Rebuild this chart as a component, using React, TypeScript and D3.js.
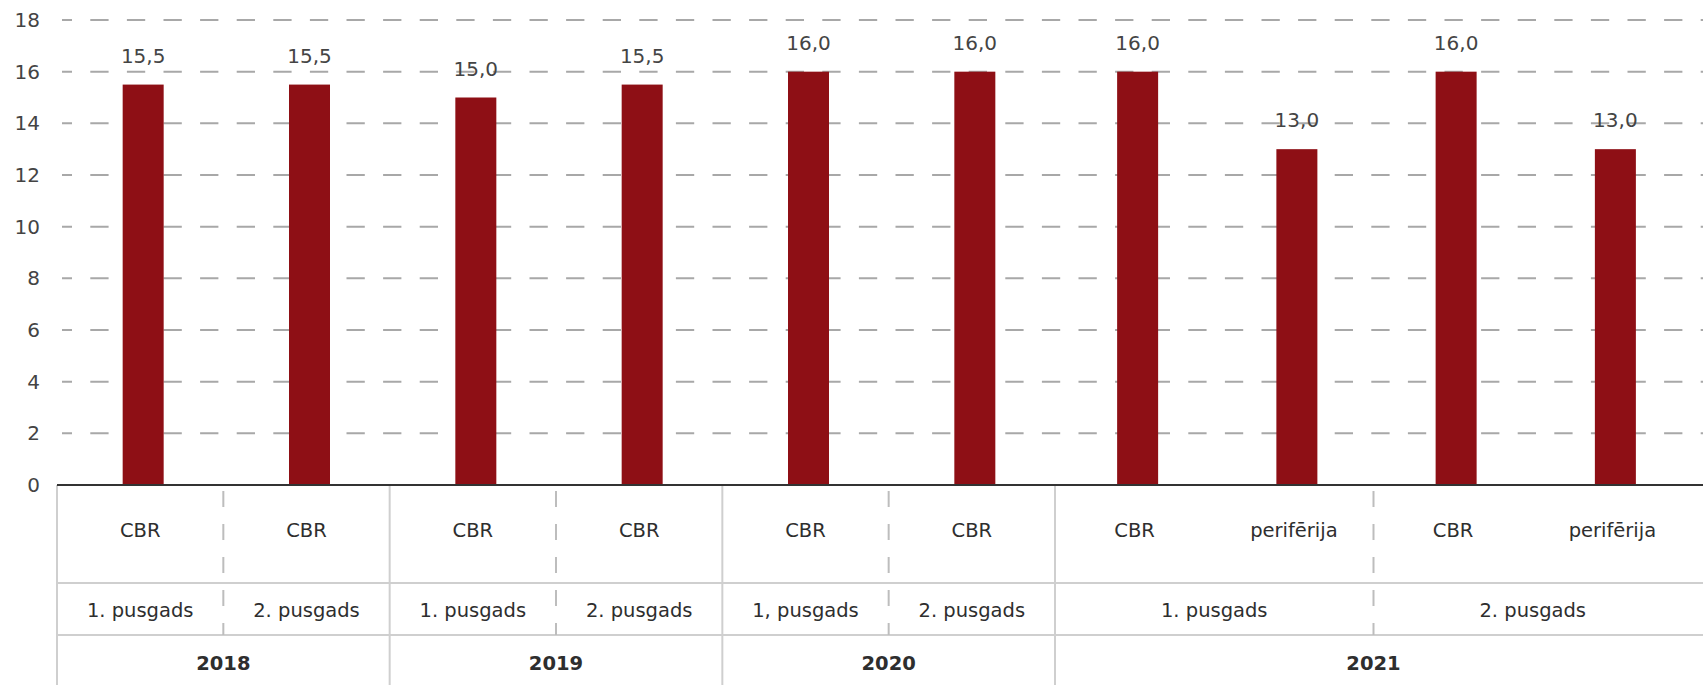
import React from "react";
import * as d3 from "d3";

const categories = ["CBR", "CBR", "CBR", "CBR", "CBR", "CBR", "CBR", "perifērija", "CBR", "perifērija"];
const values = [15.5, 15.5, 15.0, 15.5, 16.0, 16.0, 16.0, 13.0, 16.0, 13.0];
const halfLabels = ["1. pusgads", "2. pusgads", "1. pusgads", "2. pusgads", "1, pusgads", "2. pusgads", "1. pusgads", "2. pusgads"];
const halfSpans = [1, 1, 1, 1, 1, 1, 2, 2];
const years = ["2018", "2019", "2020", "2021"];
const yearSpans = [2, 2, 2, 4];
const yTicks = [0, 2, 4, 6, 8, 10, 12, 14, 16, 18];

const W = 1703;
const H = 685;
const FONT = "'DejaVu Sans', sans-serif";
const BAR = "#8e0f15";
const TXT = "#2e2e2e";

export default function App() {
  const y = d3.scaleLinear().domain([0, 18]).range([485, 20]);
  const xEdge = d3.scaleLinear().domain([0, 6, 10]).range([57, 1055, 1692]);
  const barW = 41;
  const barX = (i: number) => xEdge(i + 0.5) + 3;
  const fmt = (v: number) => d3.format(".1f")(v).replace(".", ",");

  const rowTop = 485, row1 = 583, row2 = 635;

  const halfStarts: number[] = [];
  let acc = 0;
  halfSpans.forEach((s) => { halfStarts.push(acc); acc += s; });
  const yearStarts: number[] = [];
  acc = 0;
  yearSpans.forEach((s) => { yearStarts.push(acc); acc += s; });

  const yearBoundaries = yearStarts.slice(1);
  const halfBoundaries = halfStarts.filter((s) => !yearStarts.includes(s));

  return (
    <svg width={W} height={H} style={{ position: "absolute", left: 0, top: 0, background: "#fff" }} fontFamily={FONT}>
      {yTicks.filter((t) => t > 0).map((t) => (
        <line key={"g" + t} x1={62} x2={W} y1={y(t)} y2={y(t)} stroke="#a8a8a8" strokeWidth={2}
          strokeDasharray="18.3 18.3" strokeDashoffset={8.3} />
      ))}
      {yTicks.map((t) => (
        <text key={"t" + t} x={40} y={y(t)} dy="0.35em" textAnchor="end" fontSize={20} fill="#444">{t}</text>
      ))}
      {values.map((v, i) => (
        <g key={"b" + i}>
          <rect x={barX(i) - barW / 2} y={y(v)} width={barW} height={y(0) - y(v)} fill={BAR} />
          <text x={barX(i)} y={y(v) - 22} textAnchor="middle" fontSize={20} fill="#444">{fmt(v)}</text>
        </g>
      ))}
      <line x1={57} x2={W} y1={row1} y2={row1} stroke="#cfcfcf" strokeWidth={2} />
      <line x1={57} x2={W} y1={row2} y2={row2} stroke="#cfcfcf" strokeWidth={2} />
      <line x1={xEdge(0)} x2={xEdge(0)} y1={rowTop} y2={H} stroke="#cfcfcf" strokeWidth={2} />
      {yearBoundaries.map((s) => (
        <line key={"yb" + s} x1={xEdge(s)} x2={xEdge(s)} y1={rowTop} y2={H} stroke="#cfcfcf" strokeWidth={2} />
      ))}
      {halfBoundaries.map((s) => (
        <line key={"hb" + s} x1={xEdge(s)} x2={xEdge(s)} y1={rowTop + 4} y2={row2} stroke="#bdbdbd" strokeWidth={2}
          strokeDasharray="16 17" strokeDashoffset={-2} />
      ))}
      <line x1={57} x2={W} y1={rowTop} y2={rowTop} stroke="#333" strokeWidth={2} />
      {categories.map((c, i) => (
        <text key={"c" + i} x={xEdge(i + 0.5)} y={530} dy="0.35em" textAnchor="middle" fontSize={19.5} fill={TXT}>{c}</text>
      ))}
      {halfLabels.map((h, i) => (
        <text key={"h" + i} x={(xEdge(halfStarts[i]) + xEdge(halfStarts[i] + halfSpans[i])) / 2} y={610} dy="0.35em"
          textAnchor="middle" fontSize={19.5} fill={TXT}>{h}</text>
      ))}
      {years.map((yr, i) => (
        <text key={"y" + i} x={(xEdge(yearStarts[i]) + xEdge(yearStarts[i] + yearSpans[i])) / 2} y={663} dy="0.35em"
          textAnchor="middle" fontSize={19.5} fontWeight="bold" fill={TXT}>{yr}</text>
      ))}
    </svg>
  );
}
